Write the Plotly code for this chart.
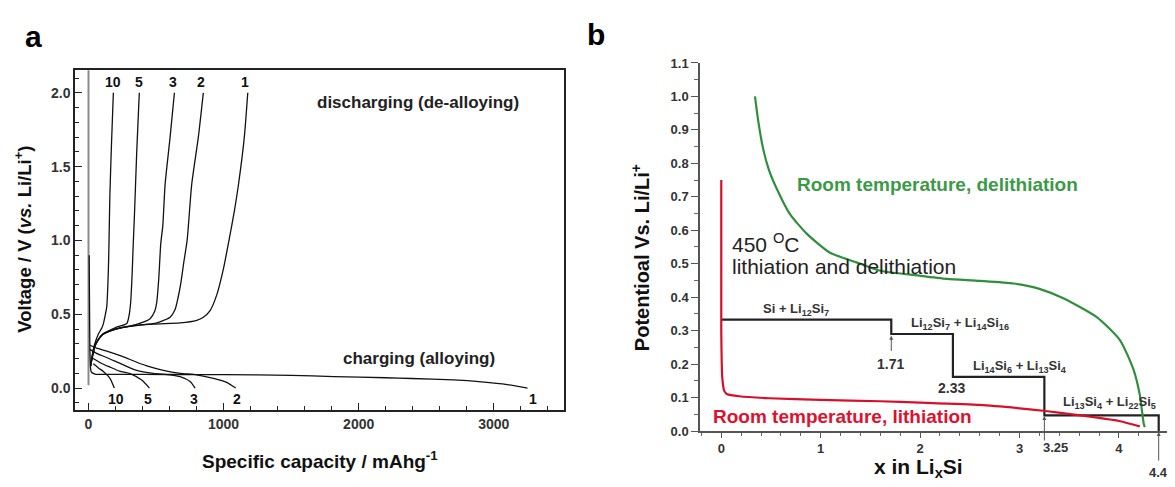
import plotly.graph_objects as go

# ---------------- Panel a data (capacity mAh/g, voltage V) ----------------
cycles = ["1", "2", "3", "5", "10"]

dis1_cap = [15, 48, 110, 200, 283, 480, 678, 801, 850, 900, 950, 999, 1040, 1080, 1110, 1154, 1179]
dis1_v = [0.15, 0.295, 0.37, 0.40, 0.415, 0.433, 0.441, 0.459, 0.48, 0.525, 0.633, 0.809, 1.0, 1.2, 1.377, 1.705, 2.0]
dis2_cap = [15, 50, 100, 200, 350, 500, 604, 640, 660, 685, 705, 730, 764, 813, 850]
dis2_v = [0.15, 0.29, 0.36, 0.40, 0.425, 0.44, 0.48, 0.53, 0.60, 0.72, 0.85, 1.0, 1.38, 1.70, 2.0]
dis3_cap = [15, 50, 100, 200, 350, 456, 490, 505, 520, 535, 550, 567, 604, 636]
dis3_v = [0.15, 0.29, 0.36, 0.40, 0.43, 0.47, 0.52, 0.58, 0.74, 0.98, 1.10, 1.38, 1.70, 2.0]
dis5_cap = [15, 50, 100, 200, 283, 300, 312, 322, 330, 340, 357, 376]
dis5_v = [0.15, 0.29, 0.36, 0.41, 0.437, 0.49, 0.58, 0.75, 0.95, 1.17, 1.60, 2.0]
dis10_cap = [15, 40, 70, 100, 110, 125, 135, 147, 152, 158, 170, 184]
dis10_v = [0.15, 0.28, 0.36, 0.41, 0.437, 0.50, 0.55, 0.80, 1.0, 1.30, 1.65, 2.0]

chg1_cap = [5, 8, 12, 20, 48, 200, 600, 1000, 1500, 1818, 2200, 2390, 2700, 2909, 3100, 3250]
chg1_v = [0.9, 0.5, 0.2, 0.11, 0.095, 0.093, 0.092, 0.091, 0.086, 0.078, 0.070, 0.065, 0.055, 0.042, 0.024, 0.0]
chg2_cap = [11, 60, 135, 250, 357, 450, 554, 680, 801, 925, 1023, 1090]
chg2_v = [0.29, 0.27, 0.251, 0.215, 0.175, 0.145, 0.12, 0.10, 0.09, 0.066, 0.039, 0.0]
chg3_cap = [11, 60, 135, 250, 357, 480, 604, 678, 752, 789]
chg3_v = [0.262, 0.235, 0.207, 0.16, 0.12, 0.10, 0.09, 0.077, 0.044, 0.0]
chg5_cap = [23, 90, 159, 230, 307, 394, 451]
chg5_v = [0.207, 0.17, 0.142, 0.115, 0.098, 0.054, 0.0]
chg10_cap = [36, 75, 110, 159, 191]
chg10_v = [0.164, 0.135, 0.113, 0.066, 0.0]

ocv_cap = [0, 0]
ocv_v = [2.16, 0.02]

# label positions for cycle numbers
top_label_cap = [1160, 835, 629, 374, 184]
bot_label_cap = [3293, 1098, 780, 439, 203]

# ---------------- Panel b data (x in LixSi, potential V) ----------------
rt_lith_x = [0, 0, 0.01, 0.03, 0.06, 0.18, 0.48, 1.0, 1.6, 2.0, 2.6, 3.0, 3.26, 3.53, 3.78, 4.0, 4.21]
rt_lith_v = [0.75, 0.30, 0.16, 0.12, 0.11, 0.104, 0.098, 0.093, 0.089, 0.085, 0.078, 0.068, 0.060, 0.050, 0.040, 0.030, 0.014]
rt_delith_x = [0.339, 0.37, 0.423, 0.48, 0.557, 0.691, 0.859, 1.094, 1.36, 1.6, 2.0, 2.27, 2.6, 2.94, 3.2, 3.44, 3.78, 4.01, 4.145, 4.21, 4.25, 4.26]
rt_delith_v = [1.0, 0.93, 0.841, 0.78, 0.725, 0.648, 0.59, 0.533, 0.504, 0.479, 0.464, 0.455, 0.449, 0.441, 0.425, 0.397, 0.34, 0.272, 0.185, 0.108, 0.021, 0.012]
ht_step_x = [0, 1.71, 1.71, 2.33, 2.33, 3.25, 3.25, 4.4, 4.4]
ht_step_v = [0.333, 0.333, 0.29, 0.29, 0.162, 0.162, 0.047, 0.047, 0.0]

phase_labels = ["Si + Li<sub>12</sub>Si<sub>7</sub>",
                "Li<sub>12</sub>Si<sub>7</sub> + Li<sub>14</sub>Si<sub>16</sub>",
                "Li<sub>14</sub>Si<sub>6</sub> + Li<sub>13</sub>Si<sub>4</sub>",
                "Li<sub>13</sub>Si<sub>4</sub> + Li<sub>22</sub>Si<sub>5</sub>"]
phase_x = [0.75, 2.40, 3.00, 3.91]
phase_v = [0.362, 0.322, 0.193, 0.084]

FONT = "Liberation Sans, Arial, sans-serif"
BLACK = "#111111"
RED = "#d7102a"
GREEN = "#2f8f3c"

# The page body has a default 8px margin, so the figure is drawn 8px in from the window corner.
OFF = 8
W = 1175 - OFF
H = 487 - OFF


def PX(p):
    return (p - OFF) / W


def PY(p):
    return 1 - (p - OFF) / H


# panel b pixel geometry helper (window pixels) for marks below the x axis
B_Y0_PX = 437.5
B_PX_PER_V = 380.0 / 1.1


def b_paper_y(v):
    return PY(B_Y0_PX - v * B_PX_PER_V)


fig = go.Figure()

# panel a traces
fig.add_trace(go.Scatter(x=ocv_cap, y=ocv_v, mode="lines", line=dict(color="#8a8a8a", width=2),
                         xaxis="x", yaxis="y", showlegend=False, hoverinfo="skip"))
for cx, cy in [(dis1_cap, dis1_v), (dis2_cap, dis2_v), (dis3_cap, dis3_v), (dis5_cap, dis5_v), (dis10_cap, dis10_v),
               (chg1_cap, chg1_v), (chg2_cap, chg2_v), (chg3_cap, chg3_v), (chg5_cap, chg5_v), (chg10_cap, chg10_v)]:
    fig.add_trace(go.Scatter(x=cx, y=cy, mode="lines", line=dict(color=BLACK, width=1.3, shape="spline", smoothing=0.6),
                             xaxis="x", yaxis="y", showlegend=False))

# panel b traces
fig.add_trace(go.Scatter(x=ht_step_x, y=ht_step_v, mode="lines", line=dict(color="#222222", width=2.2),
                         xaxis="x2", yaxis="y2", showlegend=False))
fig.add_trace(go.Scatter(x=rt_lith_x, y=rt_lith_v, mode="lines", line=dict(color=RED, width=2.2, shape="spline", smoothing=0.5),
                         xaxis="x2", yaxis="y2", showlegend=False))
fig.add_trace(go.Scatter(x=rt_delith_x, y=rt_delith_v, mode="lines", line=dict(color=GREEN, width=2.2, shape="spline", smoothing=0.6),
                         xaxis="x2", yaxis="y2", showlegend=False))

ann = []


def text(t, x, y, size, color="#111", xref="paper", yref="paper", xanchor="center", yanchor="middle", angle=0):
    ann.append(dict(text=t, x=x, y=y, xref=xref, yref=yref, xanchor=xanchor, yanchor=yanchor,
                    showarrow=False, textangle=angle, font=dict(family=FONT, size=size, color=color)))


# panel letters
text("<b>a</b>", PX(33), PY(30), 30, "black")
text("<b>b</b>", PX(596), PY(28), 30, "black")
# panel a axis titles
text("<b>Specific capacity / mAhg<sup>-1</sup></b>", PX(320), PY(467), 19)
text("<b>Voltage / V (<i>vs.</i> Li/Li<sup>+</sup>)</b>", PX(23), PY(240), 18.5, angle=-90)
# panel a texts
text("<b>discharging (de-alloying)</b>", 2440, 1.935, 17, "#222", "x", "y")
text("<b>charging (alloying)</b>", 2445, 0.20, 17, "#222", "x", "y")
for lab, cx in zip(cycles, top_label_cap):
    text("<b>%s</b>" % lab, cx, 2.076, 14, "#111", "x", "y")
for lab, cx in zip(cycles, bot_label_cap):
    text("<b>%s</b>" % lab, cx, -0.077, 14, "#111", "x", "y")

# panel b axis titles
text("<b>x in Li<sub>x</sub>Si</b>", PX(918), PY(476), 21)
text("<b>Potentioal Vs. Li/Li<sup>+</sup></b>", PX(640), PY(259), 20, angle=-90)
# panel b texts
text("<b>Room temperature, delithiation</b>", 2.17, 0.737, 19, "#3a9a46", "x2", "y2")
text("<b>Room temperature, lithiation</b>", 1.22, 0.042, 19, "#e0102e", "x2", "y2")
text("450 <sup>O</sup>C", 0.084, 0.562, 21, "#222", "x2", "y2", xanchor="left")
text("lithiation and delithiation", 0.084, 0.491, 21, "#222", "x2", "y2", xanchor="left")
for t, px, pv in zip(phase_labels, phase_x, phase_v):
    text("<b>%s</b>" % t, px, pv, 13, "#333", "x2", "y2")
text("<b>1.71</b>", 1.70, 0.200, 14, "#333", "x2", "y2")
text("<b>2.33</b>", 2.318, 0.129, 14, "#333", "x2", "y2")
text("<b>3.25</b>", 3.36, b_paper_y(-0.05), 13, "#333", "x2", "paper")
text("<b>4.4</b>", 4.40, b_paper_y(-0.125), 13, "#333", "x2", "paper")
# arrows
ann.append(dict(text="", x=1.71, y=0.285, ax=1.71, ay=0.235, xref="x2", yref="y2", axref="x2", ayref="y2",
                showarrow=True, arrowhead=2, arrowsize=0.8, arrowwidth=1, arrowcolor="#555"))
ann.append(dict(text="", x=3.25, y=b_paper_y(0.045), ax=0, ay=26, xref="x2", yref="paper",
                showarrow=True, arrowhead=2, arrowsize=0.8, arrowwidth=1, arrowcolor="#555"))
ann.append(dict(text="", x=4.4, y=b_paper_y(-0.003), ax=0, ay=30, xref="x2", yref="paper",
                showarrow=True, arrowhead=2, arrowsize=0.8, arrowwidth=1, arrowcolor="#555"))

fig.update_layout(
    width=W, height=H,
    margin=dict(l=0, r=0, t=0, b=0),
    paper_bgcolor="white", plot_bgcolor="white",
    showlegend=False,
    annotations=ann,
    xaxis=dict(domain=[PX(75), PX(564)], range=[-100, 3520], anchor="y",
               showline=True, linecolor="#222", linewidth=1.5, mirror=True,
               ticks="inside", ticklen=7, tickwidth=1.2, tickcolor="#222",
               tickvals=[0, 1000, 2000, 3000], showgrid=False, zeroline=False,
               minor=dict(dtick=200, ticks="inside", ticklen=4, tickcolor="#222", showgrid=False),
               tickfont=dict(family=FONT, size=14, color="#333", weight="bold")),
    yaxis=dict(domain=[PY(416), PY(65)], range=[-0.15, 2.153], anchor="x",
               showline=True, linecolor="#222", linewidth=1.5, mirror=True,
               ticks="inside", ticklen=7, tickwidth=1.2, tickcolor="#222",
               tickvals=[0, 0.5, 1.0, 1.5, 2.0], tickformat=".1f", showgrid=False, zeroline=False,
               minor=dict(dtick=0.1, tick0=0, ticks="inside", ticklen=4, tickcolor="#222", showgrid=False),
               tickfont=dict(family=FONT, size=14, color="#333", weight="bold")),
    xaxis2=dict(domain=[PX(700), 1.0], range=[-0.214, 4.564], anchor="y2",
                showline=True, linecolor="#555", linewidth=1.5,
                ticks="outside", ticklen=5, tickwidth=1.2, tickcolor="#555",
                tickvals=[0, 1, 2, 3, 4], showgrid=False, zeroline=False,
                minor=dict(dtick=0.2, tick0=0, ticks="outside", ticklen=3, tickcolor="#666", showgrid=False),
                tickfont=dict(family=FONT, size=13, color="#333", weight="bold")),
    yaxis2=dict(domain=[PY(437.5), PY(57.5)], range=[0, 1.1], anchor="x2",
                showline=True, linecolor="#555", linewidth=1.5,
                ticks="outside", ticklen=7, tickwidth=1.2, tickcolor="#555",
                dtick=0.1, tickformat=".1f", showgrid=False, zeroline=False,
                minor=dict(dtick=0.05, tick0=0, ticks="outside", ticklen=4, tickcolor="#666", showgrid=False),
                tickfont=dict(family=FONT, size=13, color="#333", weight="bold")),
)

fig.write_html("out.html")
